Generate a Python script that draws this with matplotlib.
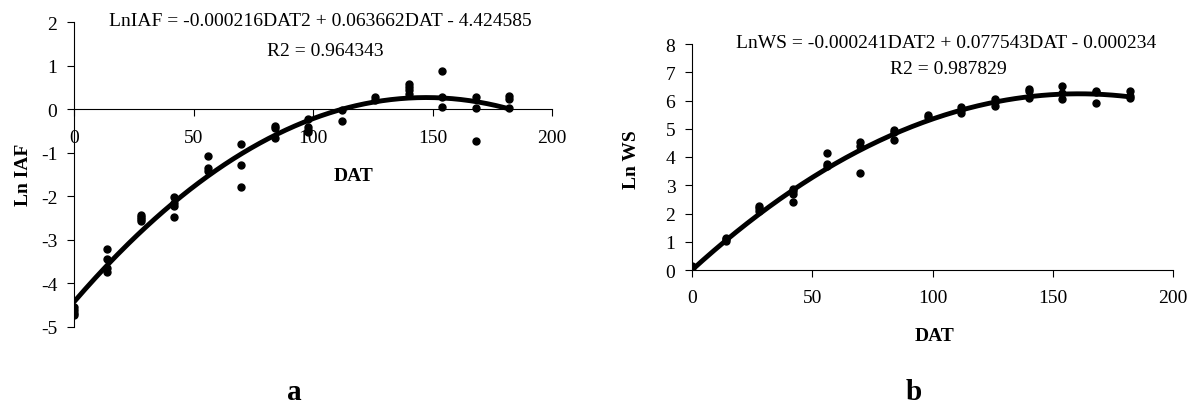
import numpy as np
import matplotlib
matplotlib.use('Agg')
import matplotlib.pyplot as plt

plt.rcParams['font.family'] = ['Liberation Serif', 'DejaVu Serif']
plt.rcParams['axes.unicode_minus'] = False

# sampling days after transplanting
dat = [0, 14, 28, 42, 56, 70, 84, 98, 112, 126, 140, 154, 168, 182]

# Ln IAF replicates per sampling day
ln_iaf = [
    [-4.55, -4.62, -4.68, -4.72],
    [-3.20, -3.45, -3.65, -3.73],
    [-2.42, -2.48, -2.53, -2.56],
    [-2.02, -2.15, -2.22, -2.47],
    [-1.08, -1.35, -1.42],
    [-0.80, -1.28, -1.78],
    [-0.38, -0.44, -0.66],
    [-0.22, -0.40, -0.47, -0.52],
    [-0.03, -0.27],
    [0.28, 0.22],
    [0.57, 0.50, 0.45, 0.34],
    [0.88, 0.27, 0.06],
    [0.27, 0.02, -0.72],
    [0.31, 0.24, 0.03],
]

# Ln WS replicates per sampling day
ln_ws = [
    [0.15, 0.12, 0.10],
    [1.15, 1.10, 1.03],
    [2.28, 2.20, 2.10],
    [2.85, 2.78, 2.70, 2.40],
    [4.15, 3.76, 3.68],
    [4.53, 4.40, 3.44],
    [4.95, 4.88, 4.60],
    [5.50, 5.43],
    [5.78, 5.65, 5.57],
    [6.05, 5.95, 5.80],
    [6.42, 6.35, 6.10],
    [6.52, 6.25, 6.05],
    [6.35, 6.30, 5.92],
    [6.35, 6.15, 6.10],
]

# quadratic trendline coefficients (a2, a1, a0)
coef_iaf = [-0.000216, 0.063662, -4.424585]
coef_ws = [-0.000241, 0.077543, -0.000234]
r2_iaf = 0.964343
r2_ws = 0.987829

W, H = 1198, 410
fig = plt.figure(figsize=(W / 100, H / 100), dpi=100)


def px(x, y):
    return x / W, 1 - y / H


def panel(rect, groups, coef, ylim, yticks):
    ax = fig.add_axes(rect)
    xs, ys = [], []
    for d, vals in zip(dat, groups):
        xs += [d] * len(vals)
        ys += vals
    ax.plot(xs, ys, 'o', color='black', markersize=5, zorder=3)
    xfit = np.linspace(dat[0], dat[-1], 200)
    ax.plot(xfit, np.polyval(coef, xfit), color='black', lw=3.5, zorder=2)
    ax.set_xlim(0, 200)
    ax.set_ylim(*ylim)
    ax.set_xticks([0, 50, 100, 150, 200])
    ax.set_yticks(yticks)
    for s in ['top', 'right']:
        ax.spines[s].set_visible(False)
    for s in ['left', 'bottom']:
        ax.spines[s].set_linewidth(0.8)
    ax.tick_params(direction='out', length=5, width=0.8, labelsize=14)
    ax.tick_params(axis='x', pad=9)
    ax.tick_params(axis='y', pad=7)
    ax.patch.set_visible(False)
    return ax


ax1 = panel([74 / W, 1 - 328 / H, 478 / W, 305 / H], ln_iaf, coef_iaf,
            (-5, 2), range(-5, 3))
ax1.spines['bottom'].set_position(('data', 0))

ax2 = panel([692 / W, 1 - 271 / H, 481 / W, 226 / H], ln_ws, coef_ws,
            (0, 8), range(0, 9))


def eq_text(name, coef):
    return (f'{name} = {coef[0]:.6f}DAT2 + {coef[1]:.6f}DAT - {abs(coef[2]):.6f}')


fig.text(*px(320, 22), eq_text('LnIAF', coef_iaf), fontsize=14,
         ha='center', va='center')
fig.text(*px(325, 52), f'R2 = {r2_iaf:.6f}', fontsize=14,
         ha='center', va='center')
fig.text(*px(946, 43), eq_text('LnWS', coef_ws), fontsize=14,
         ha='center', va='center')
fig.text(*px(948, 70), f'R2 = {r2_ws:.6f}', fontsize=14,
         ha='center', va='center')

fig.text(*px(354, 177), 'DAT', fontsize=14, fontweight='bold',
         ha='center', va='center')
fig.text(*px(935, 337), 'DAT', fontsize=14, fontweight='bold',
         ha='center', va='center')
fig.text(*px(24, 175), 'Ln IAF', fontsize=14, fontweight='bold',
         rotation=90, ha='center', va='center')
fig.text(*px(632, 160), 'Ln WS', fontsize=14, fontweight='bold',
         rotation=90, ha='center', va='center')

fig.text(*px(294, 393), 'a', fontsize=21, fontweight='bold',
         ha='center', va='center')
fig.text(*px(914, 393), 'b', fontsize=21, fontweight='bold',
         ha='center', va='center')

fig.savefig('out.png', dpi=100)
